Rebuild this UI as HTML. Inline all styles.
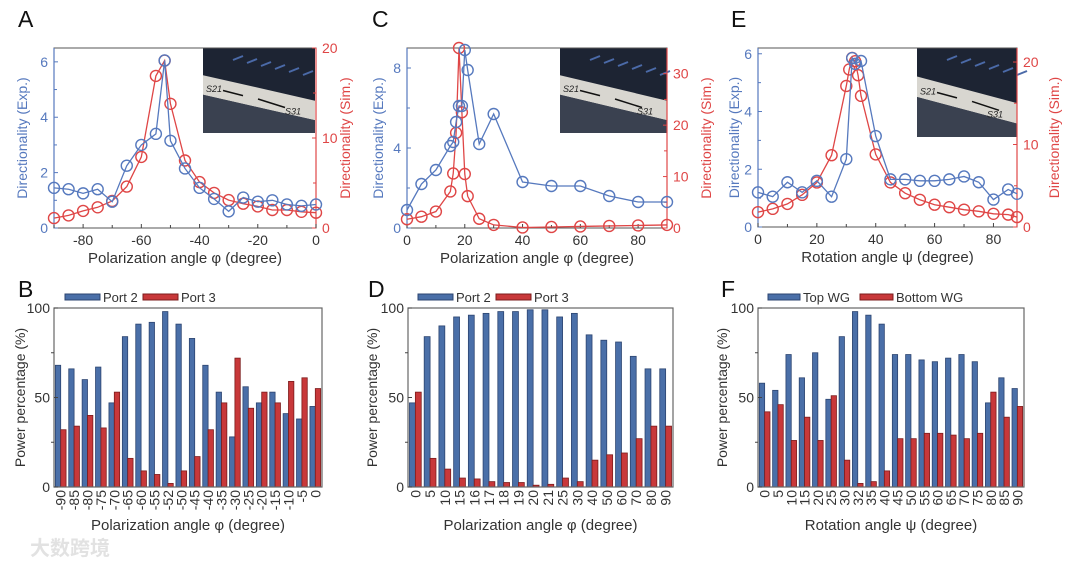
<!DOCTYPE html>
<html><head><meta charset="utf-8">
<style>
html,body{margin:0;padding:0;background:#fff;}
svg{display:block;font-family:"Liberation Sans","Noto Sans CJK SC",sans-serif;}
</style></head>
<body>
<svg id="fig" width="1080" height="564" viewBox="0 0 1080 564" xmlns="http://www.w3.org/2000/svg">
<text x="30" y="555" font-size="20" fill="#e2e2e2" font-weight="bold">大数跨境</text>
</svg>
<script>
// ---- Panel A data ----
const aX = [-90,-85,-80,-75,-70,-65,-60,-55,-52,-50,-45,-40,-35,-30,-25,-20,-15,-10,-5,0];
const aExp = [1.45,1.4,1.25,1.4,0.95,2.25,3.0,3.4,6.05,3.15,2.15,1.45,1.05,0.6,1.1,0.95,1.0,0.85,0.8,0.85];
const aSim = [1.1,1.4,1.9,2.3,3.0,4.6,7.9,16.9,18.6,13.8,7.5,5.1,3.9,3.1,2.7,2.4,2.0,2.0,1.8,1.7];
const aXTicks = [-80,-60,-40,-20,0];
// ---- Panel C data ----
const cX = [0,5,10,15,16,17,18,19,20,21,25,30,40,50,60,70,80,90];
const cExp = [0.9,2.2,2.9,4.1,4.3,5.3,6.1,6.1,8.9,7.9,4.2,5.7,2.3,2.1,2.1,1.6,1.3,1.3];
const cSimX = [0,5,10,15,16,17,18,19,20,21,25,30,40,50,60,70,80,90];
const cSim = [1.7,2.2,3.2,7.1,10.6,18.5,35,22.5,10.5,6.2,1.8,0.6,0.1,0.2,0.3,0.4,0.5,0.6];
const cXTicks = [0,20,40,60,80];
// ---- Panel E data ----
const eX = [0,5,10,15,20,25,30,32,33,35,40,45,50,55,60,65,70,75,80,85,88];
const eExp = [1.2,1.05,1.55,1.2,1.6,1.05,2.35,5.85,5.65,5.75,3.15,1.65,1.65,1.6,1.6,1.65,1.75,1.55,0.95,1.3,1.15];
const eSimX = [0,5,10,15,20,25,30,31,32,33,34,35,40,45,50,55,60,65,70,75,80,85,88];
const eSim = [1.8,2.2,2.8,3.9,5.4,8.7,17.1,19.1,20.5,20.1,18.4,15.9,8.8,5.4,4.1,3.3,2.7,2.4,2.1,1.9,1.6,1.5,1.2];
const eXTicks = [0,20,40,60,80];
// ---- Panel B data ----
const bCats = ['-90','-85','-80','-75','-70','-65','-60','-55','-52','-50','-45','-40','-35','-30','-25','-20','-15','-10','-5','0'];
const bPort2 = [68,66,60,67,47,84,91,92,98,91,83,68,53,28,56,47,53,41,38,45];
const bPort3 = [32,34,40,33,53,16,9,7,2,9,17,32,47,72,44,53,47,59,61,55];
// ---- Panel D data ----
const dCats = ['0','5','10','15','16','17','18','19','20','21','25','30','40','50','60','70','80','90'];
const dPort2 = [47,84,90,95,96,97,98,98,99,99,95,97,85,82,81,73,66,66];
const dPort3 = [53,16,10,5,4.5,3,2.5,2.5,1,1.5,5,3,15,18,19,27,34,34];
// ---- Panel F data ----
const fCats = ['0','5','10','15','20','25','30','32','35','40','45','50','55','60','65','70','75','80','85','90'];
const fTop = [58,54,74,61,75,49,84,98,96,91,74,74,71,70,72,74,70,47,61,55];
const fBottom = [42,46,26,39,26,51,15,2,3,9,27,27,30,30,29,27,30,53,39,45];

const NS='http://www.w3.org/2000/svg';
const svg=document.getElementById('fig');
const BLUE='#5679be', RED='#df4646', DARK='#333';
function mk(tag,attrs,parent){const e=document.createElementNS(NS,tag);for(const k in attrs)e.setAttribute(k,attrs[k]);(parent||svg).appendChild(e);return e;}
function txt(s,attrs,parent){const e=mk('text',attrs,parent);e.textContent=s;return e;}

function linePanel(o){
  const g=mk('g',{});
  
  
  const sx=v=>o.x0+(v-o.xd[0])/(o.xd[1]-o.xd[0])*(o.x1-o.x0);
  const syL=v=>o.y1-(v/o.lmax)*(o.y1-o.y0);
  const syR=v=>o.y1-(v/o.rmax)*(o.y1-o.y0);
  const lt=txt(o.letter,{x:o.lx,y:27,'font-size':23,fill:'#111'},g);
  
  
  const ins=mk('g',{},g);
  
  
  const [ix0,iy0,ix1,iy1]=o.inset;
  mk('rect',{x:ix0,y:iy0,width:ix1-ix0,height:iy1-iy0,fill:'#1d2433'},ins);
  for(let k=0;k<6;k++)mk('line',{x1:ix0+30+k*14,y1:iy0+12+k*3,x2:ix0+40+k*14,y2:iy0+8+k*3,stroke:'#4b6aa8','stroke-width':2},ins);
  const h=iy1-iy0;
  mk('polygon',{points:`${ix0},${iy0+h*0.32} ${ix1},${iy0+h*0.62} ${ix1},${iy0+h*0.85} ${ix0},${iy0+h*0.55}`,fill:'#d8d6d0'},ins);
  mk('polygon',{points:`${ix0},${iy0+h*0.55} ${ix1},${iy0+h*0.85} ${ix1},${iy1} ${ix0},${iy1}`,fill:'#3a4150'},ins);
  txt('S21',{x:ix0+3,y:iy0+h*0.52,'font-size':9,'font-style':'italic',fill:'#222'},ins);
  txt('S31',{x:ix1-30,y:iy0+h*0.78,'font-size':9,'font-style':'italic',fill:'#222'},ins);
  mk('line',{x1:ix0+20,y1:iy0+h*0.5,x2:ix0+40,y2:iy0+h*0.56,stroke:'#111','stroke-width':1.5},ins);
  mk('line',{x1:ix0+55,y1:iy0+h*0.6,x2:ix0+82,y2:iy0+h*0.7,stroke:'#111','stroke-width':1.5},ins);
  mk('rect',{x:o.x0,y:o.y0,width:o.x1-o.x0,height:o.y1-o.y0,fill:'none',stroke:'#555','stroke-width':1},g);
  mk('line',{x1:o.x0,y1:o.y0,x2:o.x0,y2:o.y1,stroke:BLUE,'stroke-width':1.2},g);
  mk('line',{x1:o.x1,y1:o.y0,x2:o.x1,y2:o.y1,stroke:RED,'stroke-width':1.2},g);
  o.lTicks.forEach(v=>{const y=syL(v);mk('line',{x1:o.x0,y1:y,x2:o.x0+4,y2:y,stroke:BLUE},g);
    const t=txt(String(v),{x:o.x0-6,y:y+5,'font-size':14,fill:BLUE,'text-anchor':'end'},g);
    });
  o.lMinor.forEach(v=>{const y=syL(v);mk('line',{x1:o.x0,y1:y,x2:o.x0+3,y2:y,stroke:BLUE},g);});
  o.rTicks.forEach(v=>{const y=syR(v);mk('line',{x1:o.x1,y1:y,x2:o.x1-4,y2:y,stroke:RED},g);
    const t=txt(String(v),{x:o.x1+6,y:y+5,'font-size':14,fill:RED},g);
    });
  o.rMinor.forEach(v=>{const y=syR(v);mk('line',{x1:o.x1,y1:y,x2:o.x1-3,y2:y,stroke:RED},g);});
  o.xTicks.forEach(v=>{const x=sx(v);mk('line',{x1:x,y1:o.y1,x2:x,y2:o.y1-4,stroke:'#444'},g);
    const t=txt(String(v),{x:x,y:o.y1+17,'font-size':14,fill:DARK,'text-anchor':'middle'},g);
    });
  o.xMinor.forEach(v=>{const x=sx(v);mk('line',{x1:x,y1:o.y1,x2:x,y2:o.y1-3,stroke:'#444'},g);});
  const xt=txt(o.xTitle,{x:(o.x0+o.x1)/2,y:o.y1+35,'font-size':15,fill:DARK,'text-anchor':'middle'},g);
  
  const cy=(o.y0+o.y1)/2;
  const yl=txt('Directionality (Exp.)',{x:o.ltx,y:cy,'font-size':14,fill:BLUE,'text-anchor':'middle',transform:`rotate(-90 ${o.ltx} ${cy})`},g);
  
  const yr=txt('Directionality (Sim.)',{x:o.rtx,y:cy,'font-size':14,fill:RED,'text-anchor':'middle',transform:`rotate(-90 ${o.rtx} ${cy})`},g);
  
  const series=[[o.sx2,o.sim,syR,RED,'sim-series'],[o.xs,o.exp,syL,BLUE,'exp-series']];
  series.forEach(([xs,ys,sy,col,nm])=>{
    const pts=xs.map((x,i)=>sx(x)+','+sy(ys[i])).join(' ');
    const pl=mk('polyline',{points:pts,fill:'none',stroke:col,'stroke-width':1.3},g);
    
    xs.forEach((x,i)=>{const c=mk('circle',{cx:sx(x),cy:sy(ys[i]),r:5.5,fill:'none',stroke:col,'stroke-width':1.4},g);
      });
  });
}

function barPanel(o){
  const g=mk('g',{});
  
  
  const lt=txt(o.letter,{x:o.lx,y:297,'font-size':23,fill:'#111'},g);
  
  
  const sy=v=>o.y1-v/100*(o.y1-o.y0);
  const n=o.cats.length, cw=(o.x1-o.x0)/n, bw=cw*0.4;
  o.cats.forEach((c,i)=>{
    const xc=o.x0+cw*i+cw/2;
    const b1=mk('rect',{x:xc-bw,y:sy(o.s1[i]),width:bw,height:o.y1-sy(o.s1[i]),fill:'#4a6fa8',stroke:'#2c4470','stroke-width':0.8},g);
    
    const b2=mk('rect',{x:xc,y:sy(o.s2[i]),width:bw,height:o.y1-sy(o.s2[i]),fill:'#c8383a',stroke:'#7c1c1c','stroke-width':0.8},g);
    
    const ty=o.y1+3;
    const t=txt(c,{x:xc+5,y:ty,'font-size':14,fill:DARK,'text-anchor':'end',transform:`rotate(-90 ${xc+5} ${ty})`},g);
    
  });
  mk('rect',{x:o.x0,y:o.y0,width:o.x1-o.x0,height:o.y1-o.y0,fill:'none',stroke:'#666','stroke-width':1.2},g);
  [0,50,100].forEach(v=>{const y=sy(v);mk('line',{x1:o.x0,y1:y,x2:o.x0+4,y2:y,stroke:'#444'},g);
    const t=txt(String(v),{x:o.x0-4,y:y+5,'font-size':14,fill:DARK,'text-anchor':'end'},g);
    });
  [25,75].forEach(v=>{const y=sy(v);mk('line',{x1:o.x0-3,y1:y,x2:o.x0,y2:y,stroke:'#444'},g);});
  const cy=(o.y0+o.y1)/2;
  const yl=txt('Power percentage (%)',{x:o.ytx,y:cy,'font-size':14,fill:DARK,'text-anchor':'middle',transform:`rotate(-90 ${o.ytx} ${cy})`},g);
  
  const xt=txt(o.xTitle,{x:(o.x0+o.x1)/2,y:530,'font-size':15,fill:DARK,'text-anchor':'middle'},g);
  
  const L=o.leg;
  const l1=mk('g',{},g);
  mk('rect',{x:L[0],y:294,width:L[1]-L[0],height:6,fill:'#4a6fa8',stroke:'#2c4470'},l1);
  txt(o.n1,{x:L[1]+3,y:302,'font-size':13,fill:DARK},l1);
  const l2=mk('g',{},g);
  mk('rect',{x:L[2],y:294,width:L[3]-L[2],height:6,fill:'#c8383a',stroke:'#7c1c1c'},l2);
  txt(o.n2,{x:L[3]+3,y:302,'font-size':13,fill:DARK},l2);
}

linePanel({name:'panel-a-chart',letter:'A',lx:18,x0:54,x1:316,y0:48,y1:228,xd:[-90,0],lmax:6.5,rmax:20,
  lTicks:[0,2,4,6],lMinor:[1,3,5],rTicks:[0,10,20],rMinor:[5,15],xTicks:aXTicks,xMinor:[-90,-70,-50,-30,-10],
  xs:aX,exp:aExp,sx2:aX,sim:aSim,inset:[203,48,315,133],xTitle:'Polarization angle φ (degree)',ltx:27,rtx:350});
linePanel({name:'panel-c-chart',letter:'C',lx:372,x0:407,x1:667,y0:48,y1:228,xd:[0,90],lmax:9,rmax:35,
  lTicks:[0,4,8],lMinor:[2,6],rTicks:[0,10,20,30],rMinor:[5,15,25],xTicks:cXTicks,xMinor:[10,30,50,70],
  xs:cX,exp:cExp,sx2:cSimX,sim:cSim,inset:[560,48,667,133],xTitle:'Polarization angle φ (degree)',ltx:383,rtx:711});
linePanel({name:'panel-e-chart',letter:'E',lx:731,x0:758,x1:1017,y0:48,y1:227,xd:[0,88],lmax:6.2,rmax:21.7,
  lTicks:[0,2,4,6],lMinor:[1,3,5],rTicks:[0,10,20],rMinor:[5,15],xTicks:eXTicks,xMinor:[10,30,50,70],
  xs:eX,exp:eExp,sx2:eSimX,sim:eSim,inset:[917,48,1017,137],xTitle:'Rotation angle ψ (degree)',ltx:739,rtx:1059});
barPanel({name:'panel-b-chart',letter:'B',lx:18,x0:54,x1:322,y0:308,y1:487,cats:bCats,s1:bPort2,s2:bPort3,n1:'Port 2',n2:'Port 3',
  leg:[65,100,143,178],ytx:25,xTitle:'Polarization angle φ (degree)'});
barPanel({name:'panel-d-chart',letter:'D',lx:368,x0:408,x1:673,y0:308,y1:487,cats:dCats,s1:dPort2,s2:dPort3,n1:'Port 2',n2:'Port 3',
  leg:[418,453,496,531],ytx:377,xTitle:'Polarization angle φ (degree)'});
barPanel({name:'panel-f-chart',letter:'F',lx:721,x0:758,x1:1024,y0:308,y1:487,cats:fCats,s1:fTop,s2:fBottom,n1:'Top WG',n2:'Bottom WG',
  leg:[768,800,860,893],ytx:727,xTitle:'Rotation angle ψ (degree)'});
</script>
</body></html>
